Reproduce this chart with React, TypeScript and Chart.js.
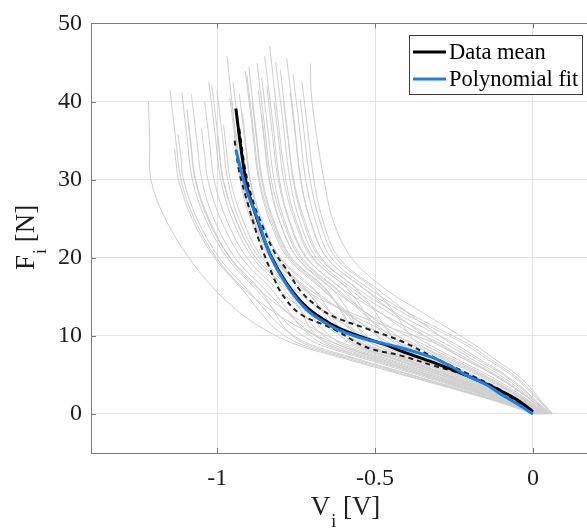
import React, { useEffect, useRef } from "react";
import { Chart, registerables } from "chart.js";

Chart.register(...registerables);

// ---- axis definitions ----
const xTicks = [-1, -0.5, 0];
const yTicks = [0, 10, 20, 30, 40, 50];
const xMin = -1.4;
const xMax = 0.2;
const yMin = -5;
const yMax = 50;

// ---- legend / axis texts ----
const legendLabels = ["Data mean", "Polynomial fit"];
const xTitle = ["V", "i", " [V]"];
const yTitle = ["F", "i", " [N]"];

// ---- data mean (black) ----
const meanV = [-0.941, -0.925, -0.905, -0.874, -0.832, -0.778, -0.715, -0.64, -0.58, -0.525, -0.47, -0.421, -0.316, -0.209, -0.104, -0.05, 0];
const meanF = [39.1, 34, 29, 25, 20.4, 16.6, 13.6, 11.5, 10.4, 9.6, 8.9, 8.1, 6.6, 4.9, 3.0, 1.8, 0.3];

// ---- polynomial fit (blue) ----
const fitV = [-0.941, -0.92, -0.9, -0.874, -0.832, -0.778, -0.715, -0.633, -0.58, -0.525, -0.47, -0.421, -0.37, -0.316, -0.26, -0.209, -0.15, -0.104, -0.05, 0];
const fitF = [33.8, 30.5, 27.8, 25.2, 20.3, 16.4, 13.3, 11.1, 10.2, 9.5, 9.0, 8.5, 7.9, 7.2, 6.1, 4.9, 3.8, 2.6, 1.3, 0];

// ---- mean +/- spread (dashed) ----
const upperV = [-0.93, -0.91, -0.885, -0.858, -0.82, -0.779, -0.737, -0.685, -0.633, -0.525, -0.421, -0.316, -0.209, -0.104, 0];
const upperF = [36.5, 31, 27, 24.2, 20.8, 18.4, 15.8, 13.8, 12.5, 10.9, 9.4, 7.3, 5.2, 3.1, 0.4];
const lowerV = [-0.945, -0.93, -0.905, -0.87, -0.83, -0.794, -0.737, -0.633, -0.525, -0.421, -0.316, -0.209, -0.104, 0];
const lowerF = [35, 31, 27.2, 22.5, 18.3, 15.3, 12.8, 10.9, 8.5, 7.5, 6.2, 4.9, 2.9, 0.2];

// ---- individual trials (grey), pairs of [V, F] ----
const trials: number[][][] = [
  [[-1.218,39.9],[-1.214,35],[-1.21,30],[-1.165,25],[-1.09,20],[-1.01,16],[-0.929,13],[-0.858,11],[-0.758,9],[-0.59,7],[-0.413,5],[-0.235,3],[-0.107,1.5],[0.001,0]],
  [[-1.124,35.7],[-1.115,32.8],[-1.107,30],[-1.064,25],[-0.994,20],[-0.906,16],[-0.841,13],[-0.792,11],[-0.712,9],[-0.552,7],[-0.383,5],[-0.216,3],[-0.096,1.5],[0.006,0]],
  [[-1.112,41.1],[-1.096,35.5],[-1.079,30],[-1.038,25],[-0.969,20],[-0.878,16],[-0.812,13],[-0.762,11],[-0.683,9],[-0.528,7],[-0.365,5],[-0.204,3],[-0.089,1.5],[0.009,0]],
  [[-1.096,39],[-1.083,34.5],[-1.069,30],[-1.027,25],[-0.959,20],[-0.867,16],[-0.818,13],[-0.786,11],[-0.724,9],[-0.562,7],[-0.39,5],[-0.221,3],[-0.099,1.5],[0.005,0]],
  [[-1.082,40.9],[-1.066,35.5],[-1.049,30],[-1.011,25],[-0.944,20],[-0.85,16],[-0.779,13],[-0.724,11],[-0.642,9],[-0.494,7],[-0.339,5],[-0.187,3],[-0.079,1.5],[0.014,0]],
  [[-1.092,37.5],[-1.082,33.8],[-1.07,30],[-1.03,25],[-0.961,20],[-0.87,16],[-0.777,13],[-0.699,11],[-0.596,9],[-0.456,7],[-0.309,5],[-0.168,3],[-0.068,1.5],[0.019,0]],
  [[-1.027,42.6],[-1.008,36.3],[-0.989,30],[-0.953,25],[-0.888,20],[-0.79,16],[-0.73,13],[-0.69,11],[-0.625,9],[-0.48,7],[-0.328,5],[-0.18,3],[-0.075,1.5],[0.016,0]],
  [[-1.017,42],[-0.999,36],[-0.981,30],[-0.942,25],[-0.878,20],[-0.779,16],[-0.703,13],[-0.646,11],[-0.567,9],[-0.432,7],[-0.29,5],[-0.156,3],[-0.061,1.5],[0.022,0]],
  [[-1.001,41.4],[-0.984,35.7],[-0.967,30],[-0.932,25],[-0.868,20],[-0.768,16],[-0.709,13],[-0.67,11],[-0.608,9],[-0.466,7],[-0.316,5],[-0.173,3],[-0.071,1.5],[0.018,0]],
  [[-0.969,45.8],[-0.948,38],[-0.922,30],[-0.884,25],[-0.822,20],[-0.718,16],[-0.641,13],[-0.584,11],[-0.509,9],[-0.384,7],[-0.253,5],[-0.132,3],[-0.047,1.5],[0.028,0]],
  [[-0.954,39.9],[-0.94,35],[-0.924,30],[-0.889,25],[-0.827,20],[-0.724,16],[-0.658,13],[-0.614,11],[-0.55,9],[-0.418,7],[-0.279,5],[-0.149,3],[-0.057,1.5],[0.024,0]],
  [[-0.98,37],[-0.97,33.5],[-0.959,30],[-0.921,25],[-0.858,20],[-0.757,16],[-0.658,13],[-0.578,11],[-0.48,9],[-0.36,7],[-0.235,5],[-0.12,3],[-0.04,1.5],[0.032,0]],
  [[-0.911,43.9],[-0.89,37],[-0.869,30],[-0.836,25],[-0.777,20],[-0.669,16],[-0.586,13],[-0.526,11],[-0.451,9],[-0.336,7],[-0.217,5],[-0.108,3],[-0.033,1.5],[0.035,0]],
  [[-0.906,43.3],[-0.886,36.6],[-0.866,30],[-0.831,25],[-0.772,20],[-0.664,16],[-0.596,13],[-0.552,11],[-0.492,9],[-0.37,7],[-0.242,5],[-0.125,3],[-0.043,1.5],[0.03,0]],
  [[-0.874,44.9],[-0.852,37.5],[-0.829,30],[-0.794,25],[-0.737,20],[-0.625,16],[-0.541,13],[-0.482,11],[-0.41,9],[-0.302,7],[-0.191,5],[-0.091,3],[-0.023,1.5],[0.039,0]],
  [[-0.859,43],[-0.84,36.5],[-0.82,30],[-0.789,25],[-0.732,20],[-0.62,16],[-0.53,13],[-0.464,11],[-0.387,9],[-0.283,7],[-0.176,5],[-0.082,3],[-0.018,1.5],[0.042,0]],
  [[-0.843,42],[-0.826,36],[-0.807,30],[-0.775,25],[-0.719,20],[-0.606,16],[-0.535,13],[-0.491,11],[-0.434,9],[-0.322,7],[-0.205,5],[-0.101,3],[-0.029,1.5],[0.037,0]],
  [[-0.834,47.1],[-0.81,38.5],[-0.783,30],[-0.752,25],[-0.696,20],[-0.581,16],[-0.485,13],[-0.414,11],[-0.335,9],[-0.24,7],[-0.143,5],[-0.06,3],[-0.005,1.5],[0.047,0]],
  [[-0.89,40],[-0.875,35],[-0.86,30],[-0.826,25],[-0.767,20],[-0.658,16],[-0.603,13],[-0.574,11],[-0.526,9],[-0.398,7],[-0.265,5],[-0.139,3],[-0.051,1.5],[0.026,0]],
  [[-0.769,41.1],[-0.752,35.5],[-0.736,30],[-0.707,25],[-0.653,20],[-0.534,16],[-0.442,13],[-0.377,11],[-0.306,9],[-0.216,7],[-0.124,5],[-0.048,3],[0.002,1.5],[0.05,0]],
  [[-0.732,42.6],[-0.713,36.3],[-0.694,30],[-0.667,25],[-0.615,20],[-0.493,16],[-0.397,13],[-0.33,11],[-0.26,9],[-0.178,7],[-0.094,5],[-0.029,3],[0.013,1.5],[0.055,0]],
  [[-0.737,40.3],[-0.722,35],[-0.706,30],[-0.677,25],[-0.625,20],[-0.504,16],[-0.44,13],[-0.406,11],[-0.364,9],[-0.264,7],[-0.161,5],[-0.072,3],[-0.012,1.5],[0.044,0]],
  [[-0.705,44.9],[-0.702,41],[-0.69,37],[-0.675,33],[-0.662,30],[-0.635,25],[-0.575,20],[-0.468,16],[-0.35,13],[-0.27,11],[-0.19,9],[-0.12,7],[-0.05,5],[0,3],[0.03,1.5],[0.063,0]],
  [[-0.8,44],[-0.78,37],[-0.758,30],[-0.725,25],[-0.671,20],[-0.554,16],[-0.436,13],[-0.344,11],[-0.248,9],[-0.168,7],[-0.087,5],[-0.024,3],[0.016,1.5],[0.057,0]],
  [[-0.82,40],[-0.805,35],[-0.79,30],[-0.757,25],[-0.701,20],[-0.587,16],[-0.533,13],[-0.508,11],[-0.468,9],[-0.35,7],[-0.228,5],[-0.115,3],[-0.037,1.5],[0.033,0]],
  [[-0.94,36],[-0.932,33],[-0.922,30],[-0.887,25],[-0.825,20],[-0.721,16],[-0.666,13],[-0.633,11],[-0.579,9],[-0.442,7],[-0.298,5],[-0.161,3],[-0.064,1.5],[0.021,0]],
  [[-1.05,36.5],[-1.04,33.2],[-1.03,30],[-0.99,25],[-0.923,20],[-0.829,16],[-0.771,13],[-0.732,11],[-0.666,9],[-0.514,7],[-0.353,5],[-0.197,3],[-0.085,1.5],[0.011,0]],
  [[-0.93,41],[-0.914,35.5],[-0.897,30],[-0.863,25],[-0.802,20],[-0.697,16],[-0.596,13],[-0.516,11],[-0.422,9],[-0.312,7],[-0.198,5],[-0.096,3],[-0.026,1.5],[0.038,0]],
  [[-0.86,38.5],[-0.848,34.2],[-0.835,30],[-0.805,25],[-0.747,20],[-0.636,16],[-0.53,13],[-0.446,11],[-0.352,9],[-0.254,7],[-0.154,5],[-0.067,3],[-0.009,1.5],[0.045,0]],
  [[-0.78,45.5],[-0.757,37.8],[-0.735,30],[-0.707,25],[-0.653,20],[-0.534,16],[-0.413,13],[-0.317,11],[-0.219,9],[-0.144,7],[-0.069,5],[-0.012,3],[0.023,1.5],[0.06,0]],
  [[-1,36],[-0.992,33],[-0.982,30],[-0.942,25],[-0.878,20],[-0.779,16],[-0.732,13],[-0.706,11],[-0.654,9],[-0.504,7],[-0.346,5],[-0.192,3],[-0.082,1.5],[0.013,0]],
  [[-0.87,41.5],[-0.853,35.7],[-0.836,30],[-0.805,25],[-0.747,20],[-0.636,16],[-0.582,13],[-0.554,11],[-0.509,9],[-0.384,7],[-0.254,5],[-0.132,3],[-0.047,1.5],[0.028,0]],
  [[-1.135,34],[-1.13,32],[-1.123,30],[-1.08,25],[-1.009,20],[-0.922,16],[-0.863,13],[-0.818,11],[-0.741,9],[-0.576,7],[-0.402,5],[-0.228,3],[-0.103,1.5],[0.003,0]],
  [[-0.95,42.5],[-0.93,36],[-0.912,30],[-0.876,25],[-0.815,20],[-0.71,16],[-0.59,13],[-0.489,11],[-0.376,9],[-0.274,7],[-0.168,5],[-0.077,3],[-0.015,1.5],[0.043,0]],
  [[-0.815,45],[-0.792,37.5],[-0.77,30],[-0.741,25],[-0.686,20],[-0.57,16],[-0.457,13],[-0.37,11],[-0.277,9],[-0.192,7],[-0.106,5],[-0.036,3],[0.009,1.5],[0.054,0]],
  [[-0.96,40.5],[-0.944,35.2],[-0.928,30],[-0.895,25],[-0.832,20],[-0.729,16],[-0.58,13],[-0.448,11],[-0.306,9],[-0.216,7],[-0.124,5],[-0.048,3],[0.002,1.5],[0.05,0]],
  [[-0.9,44.5],[-0.879,37],[-0.857,30],[-0.823,25],[-0.764,20],[-0.655,16],[-0.606,13],[-0.581,11],[-0.538,9],[-0.408,7],[-0.272,5],[-0.144,3],[-0.054,1.5],[0.025,0]],
  [[-0.85,45.8],[-0.826,38],[-0.803,30],[-0.773,25],[-0.716,20],[-0.603,16],[-0.486,13],[-0.394,11],[-0.294,9],[-0.206,7],[-0.117,5],[-0.043,3],[0.005,1.5],[0.052,0]],
  [[-0.76,43.5],[-0.74,36.8],[-0.72,30],[-0.691,25],[-0.639,20],[-0.518,16],[-0.397,13],[-0.303,11],[-0.207,9],[-0.134,7],[-0.061,5],[-0.007,3],[0.026,1.5],[0.061,0]],
  [[-1.04,40],[-1.025,35],[-1.01,30],[-0.972,25],[-0.906,20],[-0.809,16],[-0.715,13],[-0.637,11],[-0.538,9],[-0.408,7],[-0.272,5],[-0.144,3],[-0.054,1.5],[0.025,0]],
  [[-1.15,41.5],[-1.133,35.7],[-1.115,30],[-1.073,25],[-1.003,20],[-0.915,16],[-0.819,13],[-0.736,11],[-0.625,9],[-0.48,7],[-0.328,5],[-0.18,3],[-0.075,1.5],[0.016,0]],
  [[-0.92,38.5],[-0.908,34.2],[-0.895,30],[-0.86,25],[-0.8,20],[-0.694,16],[-0.643,13],[-0.615,11],[-0.567,9],[-0.432,7],[-0.29,5],[-0.156,3],[-0.061,1.5],[0.022,0]],
  [[-0.79,40],[-0.775,35],[-0.76,30],[-0.73,25],[-0.676,20],[-0.559,16],[-0.498,13],[-0.466,11],[-0.422,9],[-0.312,7],[-0.198,5],[-0.096,3],[-0.026,1.5],[0.038,0]],
];

const SERIF = '"Liberation Serif", "Times New Roman", serif';
const AXIS_COLOR = "#7a7a7a";
const TEXT_COLOR = "#1e1e1e";
const BLUE = "#1a7fe6";

const toPoints = (vs: number[], fs: number[]) => vs.map((v, i) => ({ x: v, y: fs[i] }));

const framePlugin = {
  id: "frame",
  afterDraw(chart: any) {
    const { ctx, chartArea, scales } = chart;
    const { left, right, top, bottom } = chartArea;
    ctx.save();
    ctx.strokeStyle = AXIS_COLOR;
    ctx.lineWidth = 1;
    const ty = Math.round(top) + 0.5;
    ctx.beginPath();
    ctx.moveTo(left, ty);
    ctx.lineTo(right, ty);
    ctx.stroke();
    const tl = 5;
    ctx.beginPath();
    xTicks.forEach((v) => {
      const px = Math.round(scales.x.getPixelForValue(v)) + 0.5;
      ctx.moveTo(px, bottom);
      ctx.lineTo(px, bottom - tl);
      ctx.moveTo(px, top);
      ctx.lineTo(px, top + tl);
    });
    yTicks.forEach((v) => {
      const py = Math.round(scales.y.getPixelForValue(v)) + 0.5;
      ctx.moveTo(left, py);
      ctx.lineTo(left + tl, py);
    });
    ctx.stroke();

    const drawTitle = (parts: string[], cx: number, cy: number, rotate: boolean) => {
      ctx.save();
      ctx.translate(cx, cy);
      if (rotate) ctx.rotate(-Math.PI / 2);
      const big = `27px ${SERIF}`;
      const small = `18px ${SERIF}`;
      ctx.font = big;
      const w1 = ctx.measureText(parts[0]).width;
      const w3 = ctx.measureText(parts[2]).width;
      ctx.font = small;
      const w2 = ctx.measureText(parts[1]).width;
      let x = -(w1 + w2 + w3) / 2;
      ctx.fillStyle = TEXT_COLOR;
      ctx.textAlign = "left";
      ctx.textBaseline = "alphabetic";
      ctx.font = big;
      ctx.fillText(parts[0], x, 0);
      x += w1;
      ctx.font = small;
      ctx.fillText(parts[1], x + 1, 12);
      x += w2 + 1;
      ctx.font = big;
      ctx.fillText(parts[2], x, 0);
      ctx.restore();
    };
    drawTitle(xTitle, 345, 515, false);
    drawTitle(yTitle, 34, 238, true);

    const bx = 409.5, by = 35.5, bw = 173, bh = 59;
    ctx.fillStyle = "#ffffff";
    ctx.fillRect(bx, by, bw, bh);
    ctx.strokeStyle = "#3a3a3a";
    ctx.lineWidth = 1;
    ctx.strokeRect(bx, by, bw, bh);
    const rows = [
      { color: "#000000", y: 52, label: legendLabels[0] },
      { color: BLUE, y: 79, label: legendLabels[1] },
    ];
    rows.forEach((r) => {
      ctx.strokeStyle = r.color;
      ctx.lineWidth = 3;
      ctx.beginPath();
      ctx.moveTo(413, r.y);
      ctx.lineTo(446, r.y);
      ctx.stroke();
      ctx.fillStyle = "#000";
      ctx.font = `22.5px ${SERIF}`;
      ctx.textAlign = "left";
      ctx.textBaseline = "middle";
      ctx.fillText(r.label, 449, r.y + 1);
    });
    ctx.restore();
  },
};

export default function App() {
  const ref = useRef<HTMLCanvasElement>(null);

  useEffect(() => {
    if (!ref.current) return;
    const lineOpts = { showLine: true, pointRadius: 0, tension: 0.35 };
    const greyDatasets = trials.map((t) => ({
      ...lineOpts,
      data: t.map(([x, y]) => ({ x, y })),
      borderColor: "#cecece",
      borderWidth: 1,
      order: 4,
    }));
    const chart = new Chart(ref.current, {
      type: "scatter",
      data: {
        datasets: [
          { ...lineOpts, data: toPoints(fitV, fitF), borderColor: BLUE, borderWidth: 3, order: 0 },
          { ...lineOpts, data: toPoints(meanV, meanF), borderColor: "#000000", borderWidth: 3, order: 1 },
          { ...lineOpts, data: toPoints(upperV, upperF), borderColor: "#222222", borderWidth: 2, borderDash: [5, 4], order: 2 },
          { ...lineOpts, data: toPoints(lowerV, lowerF), borderColor: "#222222", borderWidth: 2, borderDash: [5, 4], order: 3 },
          ...greyDatasets,
        ] as any,
      },
      options: {
        animation: false,
        responsive: false,
        events: [],
        layout: { padding: { top: 20, right: 4, left: 0, bottom: 0 } },
        plugins: { legend: { display: false }, tooltip: { enabled: false } },
        scales: {
          x: {
            type: "linear",
            min: xMin,
            max: xMax,
            afterBuildTicks: (s: any) => {
              s.ticks = xTicks.map((v) => ({ value: v }));
            },
            afterFit: (s: any) => {
              s.height = 75;
            },
            ticks: {
              autoSkip: false,
              maxRotation: 0,
              padding: 11,
              color: TEXT_COLOR,
              font: { family: SERIF, size: 24 },
              callback: (v: any) => String(v),
            },
            grid: { color: "#e3e3e3", drawTicks: false, lineWidth: 1 },
            border: { display: true, color: AXIS_COLOR, width: 1 },
          },
          y: {
            type: "linear",
            min: yMin,
            max: yMax,
            afterBuildTicks: (s: any) => {
              s.ticks = yTicks.map((v) => ({ value: v }));
            },
            afterFit: (s: any) => {
              s.width = 91;
            },
            ticks: {
              autoSkip: false,
              padding: 9,
              color: TEXT_COLOR,
              font: { family: SERIF, size: 24 },
              callback: (v: any) => String(v),
            },
            grid: { color: "#e3e3e3", drawTicks: false, lineWidth: 1 },
            border: { display: true, color: AXIS_COLOR, width: 1 },
          },
        },
      } as any,
      plugins: [framePlugin],
    });
    const fonts = (document as any).fonts;
    if (fonts && fonts.load) {
      Promise.all([
        fonts.load('24px "Liberation Serif"'),
        fonts.load('18px "Liberation Serif"'),
      ]).then(() => chart.update("none")).catch(() => {});
    }
    return () => chart.destroy();
  }, []);

  return (
    <div
      style={{
        position: "fixed",
        left: 0,
        top: 0,
        width: 587,
        height: 528,
        overflow: "hidden",
        background: "#ffffff",
      }}
    >
      <canvas ref={ref} width={600} height={528} style={{ display: "block" }} />
    </div>
  );
}
